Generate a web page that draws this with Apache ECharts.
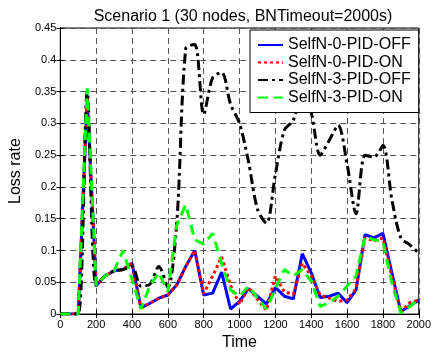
<!DOCTYPE html>
<html>
<head>
<meta charset="utf-8">
<script src="https://cdn.jsdelivr.net/npm/echarts@6/dist/echarts.min.js"></script>
<style>html,body{margin:0;padding:0;background:#fff;}#c{width:434px;height:356px;}</style>
</head>
<body>
<div id="c"></div>
<script>
const times = [0,50,100,150,200,250,300,350,400,450,500,550,600,650,700,750,800,850,900,950,1000,1050,1100,1150,1200,1250,1300,1350,1400,1450,1500,1550,1600,1650,1700,1750,1800,1850,1900,1950,2000];
const selfN0PidOff = [0,0,0,0.34,0.045,0.06,0.068,0.07,0.08,0.01,0.017,0.025,0.03,0.046,0.075,0.1,0.03,0.033,0.066,0.008,0.02,0.04,0.028,0.016,0.042,0.028,0.024,0.095,0.065,0.026,0.028,0.033,0.018,0.038,0.125,0.12,0.127,0.065,0.004,0.013,0.022];
const selfN0PidOn = [0,0,0,0.34,0.045,0.06,0.068,0.07,0.08,0.01,0.017,0.025,0.03,0.046,0.075,0.1,0.032,0.06,0.09,0.045,0.015,0.042,0.023,0.006,0.06,0.035,0.031,0.08,0.06,0.03,0.025,0.02,0.022,0.04,0.12,0.115,0.12,0.06,0.004,0.018,0.022];
const selfN3PidOff = [0,0,0,0.35,0.045,0.06,0.068,0.07,0.075,0.044,0.047,0.075,0.042,0.145,0.418,0.424,0.314,0.372,0.38,0.33,0.3,0.24,0.165,0.143,0.22,0.289,0.305,0.35,0.317,0.25,0.273,0.297,0.236,0.158,0.25,0.247,0.265,0.18,0.12,0.109,0.096];
const selfN3PidOn = [0,0,0,0.355,0.045,0.06,0.068,0.1,0.055,0.008,0.045,0.065,0.035,0.14,0.172,0.117,0.11,0.127,0.08,0.038,0.028,0.044,0.025,0.008,0.04,0.07,0.06,0.07,0.052,0.012,0.018,0.028,0.044,0.06,0.122,0.117,0.114,0.049,0.002,0.012,0.023];
const seriesNames = ['SelfN-0-PID-OFF','SelfN-0-PID-ON','SelfN-3-PID-OFF','SelfN-3-PID-ON'];

function pairs(vals){ return times.map((t,i)=>[t, vals[i]]); }

const font = 'Liberation Sans, Arial, Helvetica, sans-serif';
const chart = echarts.init(document.getElementById('c'), null, {renderer:'canvas'});
const gridLine = {show:true, lineStyle:{color:'#555', type:[6,4], width:1}};
chart.setOption({
  animation:false,
  backgroundColor:'#fff',
  title:{text:'Scenario 1 (30 nodes, BNTimeout=2000s)', left:238, top:4, textAlign:'center',
    textStyle:{fontFamily:font, fontSize:16, fontWeight:'normal', color:'#000'}},
  grid:{left:55, right:11, top:28, bottom:38, show:true, borderColor:'#000', borderWidth:1, backgroundColor:'transparent'},
  legend:{
    data:seriesNames, orient:'vertical', left:250, top:30,
    backgroundColor:'#fff', borderColor:'#000', borderWidth:1, borderRadius:0,
    padding:[7,8,7,7], itemGap:1.5, itemWidth:25, itemHeight:4,
    itemStyle:{opacity:0},
    textStyle:{fontFamily:font, fontSize:16, color:'#000'}
  },
  xAxis:[{
    type:'value', min:0, max:2000, interval:200,
    axisLine:{show:true, lineStyle:{color:'#000', width:1}},
    axisTick:{show:true, inside:true, length:4, lineStyle:{color:'#000'}},
    axisLabel:{fontFamily:font, fontSize:11, color:'#000', margin:5, formatter:v=>String(v)},
    splitLine:gridLine,
    name:'Time', nameLocation:'middle', nameGap:20,
    nameTextStyle:{fontFamily:font, fontSize:16, color:'#000'}
  },{
    type:'value', min:0, max:2000, interval:200, position:'top',
    axisLine:{show:true, lineStyle:{color:'#000'}},
    axisTick:{show:true, inside:true, length:4, lineStyle:{color:'#000'}},
    axisLabel:{show:false}, splitLine:{show:false}
  }],
  yAxis:[{
    type:'value', min:0, max:0.45, interval:0.05,
    axisLine:{show:true, lineStyle:{color:'#000', width:1}},
    axisTick:{show:true, inside:true, length:4, lineStyle:{color:'#000'}},
    axisLabel:{fontFamily:font, fontSize:11, color:'#000', margin:4},
    splitLine:gridLine,
    name:'Loss rate', nameLocation:'middle', nameGap:31,
    nameTextStyle:{fontFamily:font, fontSize:16, color:'#000'}
  },{
    type:'value', min:0, max:0.45, interval:0.05, position:'right',
    axisLine:{show:true, lineStyle:{color:'#000'}},
    axisTick:{show:true, inside:true, length:4, lineStyle:{color:'#000'}},
    axisLabel:{show:false}, splitLine:{show:false}
  }],
  series:[
    {name:seriesNames[0], type:'line', data:pairs(selfN0PidOff), showSymbol:false, symbol:'none',
      color:'#0000ff', lineStyle:{color:'#0000ff', width:3, type:'solid'}},
    {name:seriesNames[1], type:'line', data:pairs(selfN0PidOn), showSymbol:false, symbol:'none',
      color:'#ff0000', lineStyle:{color:'#ff0000', width:3, type:[3,3]}},
    {name:seriesNames[2], type:'line', data:pairs(selfN3PidOff), showSymbol:false, symbol:'none', smooth:0.3,
      color:'#000000', lineStyle:{color:'#000000', width:3, type:[10,4,3,4]}},
    {name:seriesNames[3], type:'line', data:pairs(selfN3PidOn), showSymbol:false, symbol:'none',
      color:'#00ff00', lineStyle:{color:'#00ff00', width:3, type:[10,6]}}
  ]
});
</script>
</body>
</html>
